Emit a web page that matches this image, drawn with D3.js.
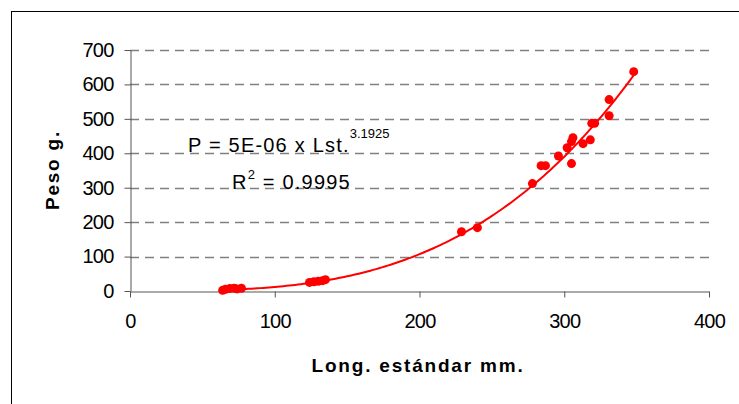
<!DOCTYPE html>
<html>
<head>
<meta charset="utf-8">
<script src="https://cdn.jsdelivr.net/npm/d3@7"></script>
<style>
  body { margin: 0; background: #fff; }
  text { font-family: "Liberation Sans", Arial, sans-serif; }
</style>
</head>
<body>
<svg id="chart"></svg>
<script>
// longitud estandar (mm) and peso (g)
var longitud = [64, 66, 69, 72, 74, 77, 124, 127, 130, 133, 135,
                229, 240, 278, 284, 287, 296, 302, 305, 305, 306, 313,
                318, 319, 321, 331, 331, 348]
var peso = [2, 5, 7, 8, 6, 8, 25, 27, 28, 30, 33,
            172, 184, 312, 364, 364, 392, 416, 434, 370, 445, 428,
            439, 487, 487, 509, 556, 637]

var xTicks = [0, 100, 200, 300, 400]
var yTicks = [0, 100, 200, 300, 400, 500, 600, 700]

// power trendline
var coefA = 4.82e-6
var coefB = 3.1925

var width = 739, height = 404

var svg = d3.select("#chart")
    .attr("width", width)
    .attr("height", height)

// chart area border (only left/top edges show in the picture)
svg.append("rect")
    .attr("x", 11.5).attr("y", 11.5)
    .attr("width", 800).attr("height", 500)
    .attr("fill", "none")
    .attr("stroke", "#000")

var x = d3.scaleLinear()
    .domain([0, 400])
    .range([130, 709])

var y = d3.scaleLinear()
    .domain([0, 700])
    .range([291, 50])

// dashed gridlines
svg.append("g")
    .selectAll("line")
    .data(yTicks.filter(d => d > 0))
    .join("line")
      .attr("x1", x(0)).attr("x2", x(400))
      .attr("y1", d => Math.round(y(d)) + 0.5)
      .attr("y2", d => Math.round(y(d)) + 0.5)
      .attr("stroke", "#808080")
      .attr("stroke-width", 1.5)
      .attr("stroke-dasharray", "9,6")

// axes
var xAxis = svg.append("g")
    .attr("transform", "translate(0," + (Math.round(y(0)) + 0.5) + ")")
    .call(d3.axisBottom(x).tickValues(xTicks).tickSize(6).tickPadding(16).tickSizeOuter(0))

var yAxis = svg.append("g")
    .attr("transform", "translate(" + (Math.round(x(0)) + 0.5) + ",0)")
    .call(d3.axisLeft(y).tickValues(yTicks).tickSize(6).tickPadding(11).tickSizeOuter(0))

svg.selectAll(".domain").attr("stroke", "#555")
svg.selectAll(".tick line").attr("stroke", "#555")
svg.selectAll(".tick text")
    .attr("font-family", "'Liberation Sans', Arial, sans-serif")
    .attr("font-size", 20)
    .attr("letter-spacing", -0.8)
    .attr("fill", "#000")

// trendline
var lMin = d3.min(longitud), lMax = d3.max(longitud)
var curve = d3.range(lMin, lMax + 0.01, 2).map(l => [l, coefA * Math.pow(l, coefB)])
svg.append("path")
    .datum(curve)
    .attr("fill", "none")
    .attr("stroke", "#ff0000")
    .attr("stroke-width", 2)
    .attr("d", d3.line().x(d => x(d[0])).y(d => y(d[1])))

// points
svg.append("g")
    .selectAll("circle")
    .data(longitud.map((l, i) => ({l: l, p: peso[i]})))
    .join("circle")
      .attr("cx", d => x(d.l))
      .attr("cy", d => y(d.p))
      .attr("r", 4.5)
      .attr("fill", "#ff0000")

// equation label
var eq = svg.append("text")
    .attr("x", 188).attr("y", 152)
    .attr("font-size", 20)
    .attr("letter-spacing", 1.2)
eq.append("tspan").text("P = 5E-06 x Lst.")
eq.append("tspan").attr("dy", -14).attr("font-size", 13).attr("letter-spacing", 0).text("3.1925")

var r2 = svg.append("text")
    .attr("x", 232).attr("y", 189)
    .attr("font-size", 20)
    .attr("letter-spacing", 1.2)
r2.append("tspan").text("R")
r2.append("tspan").attr("dy", -10).attr("font-size", 13).text("2")
r2.append("tspan").attr("dy", 10).text(" = 0.9995")

// axis titles
svg.append("text")
    .attr("x", 418).attr("y", 372)
    .attr("text-anchor", "middle")
    .attr("font-size", 19)
    .attr("font-weight", "bold")
    .attr("letter-spacing", 1.8)
    .text("Long. estándar mm.")

svg.append("text")
    .attr("transform", "translate(59,170) rotate(-90)")
    .attr("text-anchor", "middle")
    .attr("font-size", 19)
    .attr("font-weight", "bold")
    .attr("letter-spacing", 1.8)
    .text("Peso g.")
</script>
</body>
</html>
